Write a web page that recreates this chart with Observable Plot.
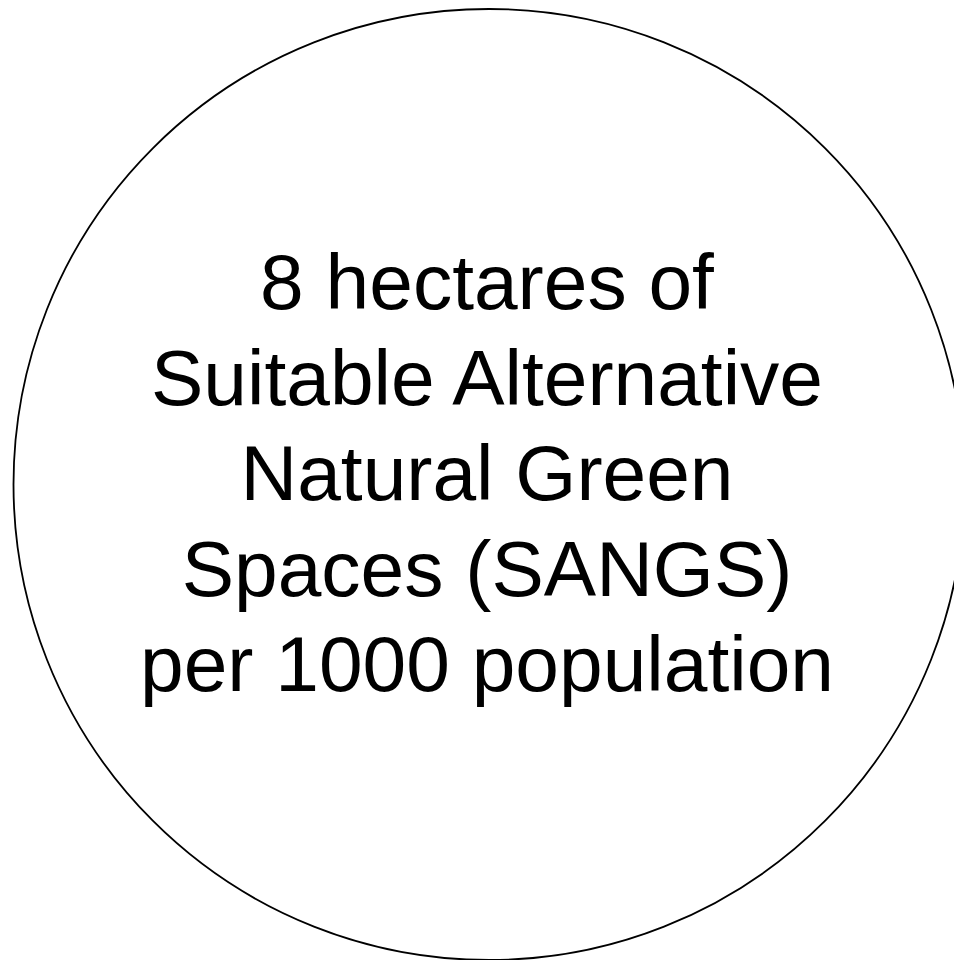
<!DOCTYPE html>
<html>
<head>
<meta charset="utf-8">
<script src="https://cdn.jsdelivr.net/npm/d3@7"></script>
<script src="https://cdn.jsdelivr.net/npm/@observablehq/plot@0.6"></script>
<style>
  html, body { margin: 0; padding: 0; background: #fff; overflow: hidden; }
</style>
</head>
<body>
<div id="chart"></div>
<script>
const lines = [
  "8 hectares of",
  "Suitable Alternative",
  "Natural Green",
  "Spaces (SANGS)",
  "per 1000 population"
];
const circleRadius = [475.5];

const chart = Plot.plot({
  width: 954,
  height: 960,
  marginLeft: 23,
  marginRight: 0,
  marginTop: 8,
  marginBottom: 0,
  r: {type: "identity"},
  marks: [
    Plot.dot(circleRadius, {
      frameAnchor: "middle",
      r: d => d,
      fill: "none",
      stroke: "#000",
      strokeWidth: 1.8
    }),
    Plot.text([lines.join("\n")], {
      frameAnchor: "middle",
      text: d => d,
      fontSize: 78.5,
      lineHeight: 1.217,
      lineAnchor: "middle",
      textAnchor: "middle",
      dx: -2,
      dy: -15,
      fill: "#000",
      fontFamily: "'Liberation Sans', Arial, sans-serif"
    })
  ]
});
chart.style.overflow = "hidden";
document.getElementById("chart").appendChild(chart);
</script>
</body>
</html>
